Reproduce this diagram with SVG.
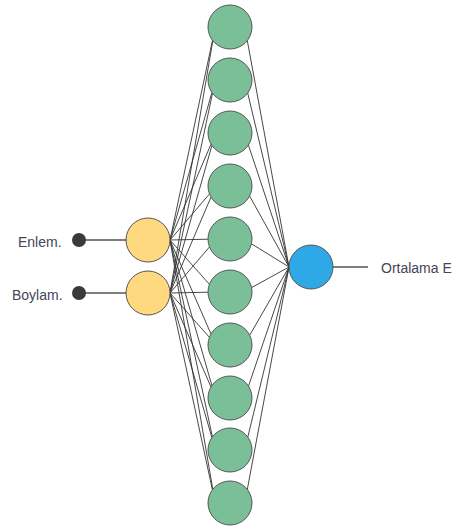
<svg xmlns="http://www.w3.org/2000/svg" width="456" height="527" viewBox="0 0 456 527">
<style>
.c{stroke:#333;stroke-width:0.9;fill:none}
.lead{stroke:#555;stroke-width:1.4}
.in{fill:#FFD97F;stroke:#555;stroke-width:1}
.hid{fill:#7BBF98;stroke:#555;stroke-width:1}
.out{fill:#2EA8E6;stroke:#555;stroke-width:1}
.dot{fill:#3a3a3a}
text{font-family:"Liberation Sans",Arial,sans-serif;font-size:14px;fill:#44445a}
</style>
<rect width="456" height="527" fill="#fff"/>
<g id="connectors">
<line class="lead" x1="79" y1="240" x2="148" y2="240"/>
<line class="lead" x1="79" y1="293" x2="148" y2="293"/>
<line class="lead" x1="311" y1="267" x2="368" y2="267"/>
<g class="c">
<path d="M170 240L212.5 40.3M170 240L211.9 92.5M170 240L211 144.1M170 240L209.5 193.9M170 240L208 239.2M170 240L209.4 284.3M170 240L211 334M170 240L211.9 385.5M170 240L212.4 436.8M170 240L212.8 489.3"/>
<path d="M170 293L212.8 40.7M170 293L212.5 93.3M170 293L211.9 145.5M170 293L211 197.1M170 293L209.5 246.9M170 293L208 292.2M170 293L209.4 337.3M170 293L211 387M170 293L211.9 437.5M170 293L212.4 489.8"/>
<path d="M289 267L247.3 40.6M289 267L247.7 93M289 267L248.4 145M289 267L249.6 196M289 267L251.5 243.8M289 267L251.6 287.6M289 267L249.7 335.2M289 267L248.5 386.1M289 267L247.8 437.1M289 267L247.3 489.5"/>
</g>
</g>
<g id="in-enlem"><circle class="dot" cx="79" cy="240" r="7"/><circle class="in" cx="148" cy="240" r="22"/><text x="18" y="247">Enlem.</text></g>
<g id="in-boylam"><circle class="dot" cx="79" cy="293" r="7"/><circle class="in" cx="148" cy="293" r="22"/><text x="12" y="300">Boylam.</text></g>
<g id="h1"><circle class="hid" cx="230" cy="27" r="22"/></g>
<g id="h2"><circle class="hid" cx="230" cy="80" r="22"/></g>
<g id="h3"><circle class="hid" cx="230" cy="133" r="22"/></g>
<g id="h4"><circle class="hid" cx="230" cy="186" r="22"/></g>
<g id="h5"><circle class="hid" cx="230" cy="239" r="22"/></g>
<g id="h6"><circle class="hid" cx="230" cy="292" r="22"/></g>
<g id="h7"><circle class="hid" cx="230" cy="345" r="22"/></g>
<g id="h8"><circle class="hid" cx="230" cy="398" r="22"/></g>
<g id="h9"><circle class="hid" cx="230" cy="450" r="22"/></g>
<g id="h10"><circle class="hid" cx="230" cy="503" r="22"/></g>
<g id="out"><circle class="out" cx="311" cy="267" r="22"/><text x="381" y="273">Ortalama E</text></g>
</svg>
